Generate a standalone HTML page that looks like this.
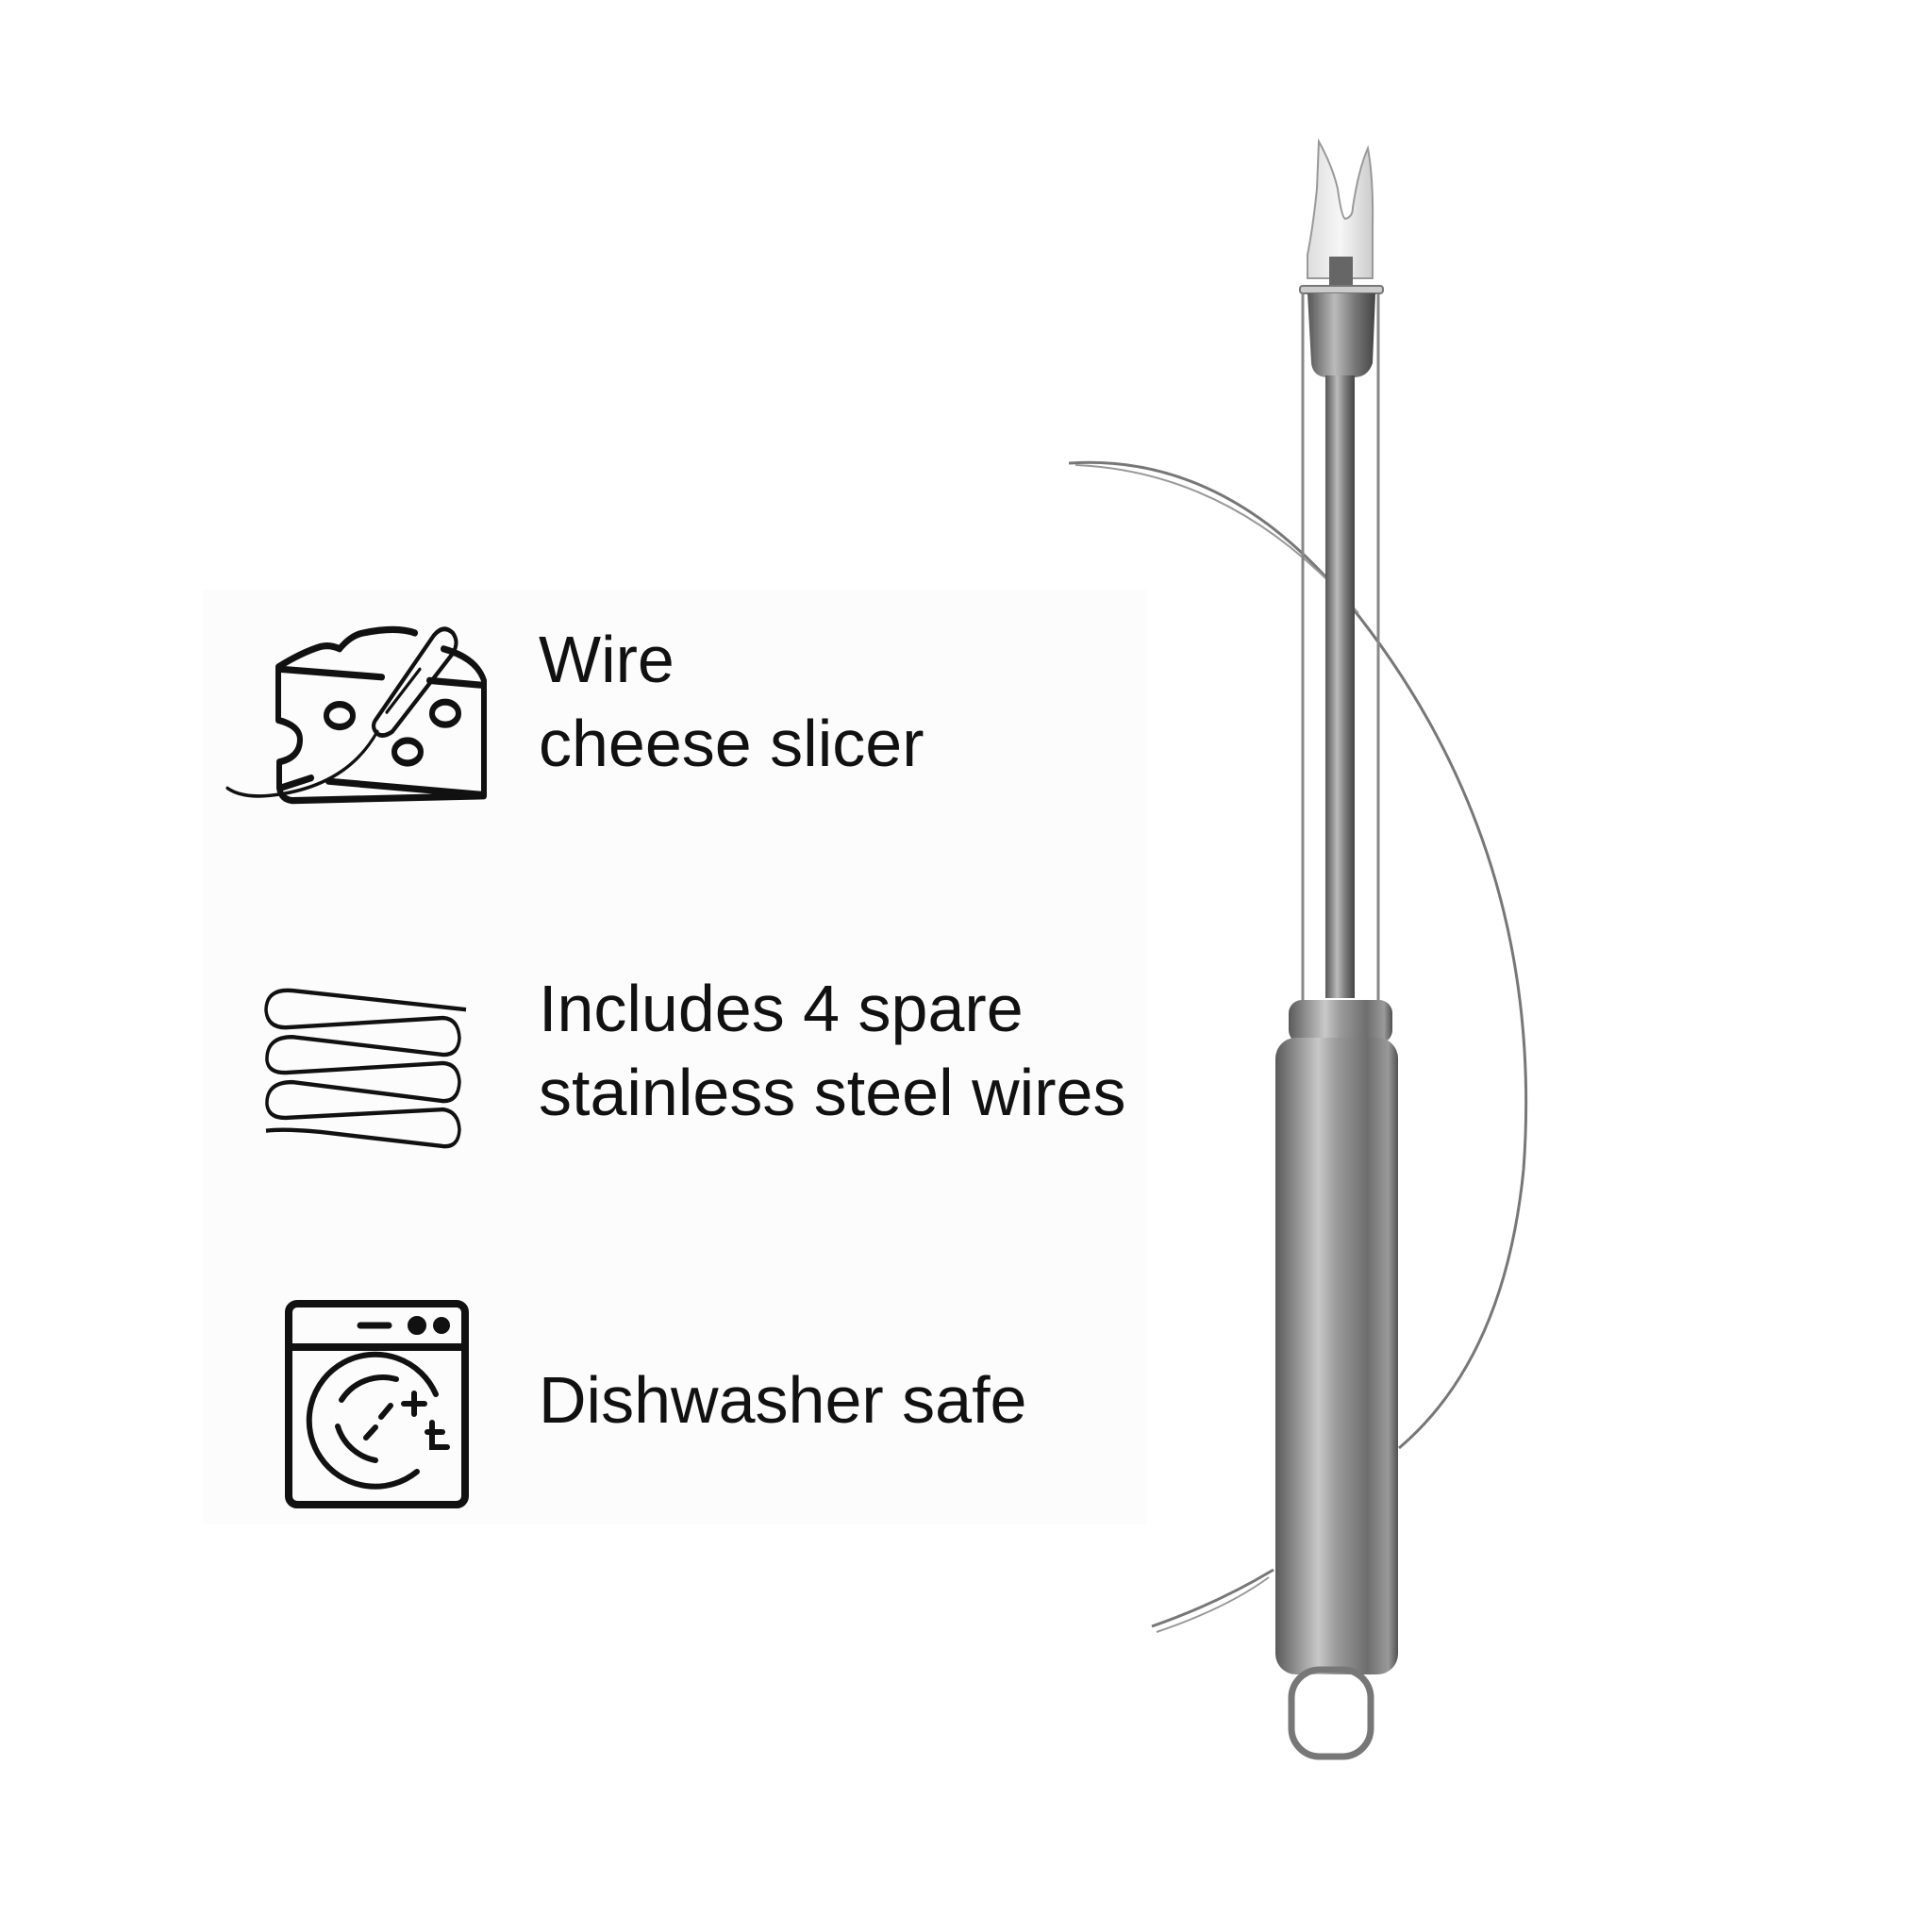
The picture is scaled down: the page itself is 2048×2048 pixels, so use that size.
<!DOCTYPE html>
<html><head><meta charset="utf-8"><style>
html,body{margin:0;padding:0;background:#fff;}
body{width:2048px;height:2048px;position:relative;overflow:hidden;font-family:"Liberation Sans","DejaVu Sans",sans-serif;}
.t{position:absolute;left:571px;font-size:70px;color:#111;line-height:1;white-space:nowrap;}
svg{position:absolute;left:0;top:0;}
</style></head><body>
<svg width="2048" height="2048" viewBox="0 0 2048 2048">
<defs>
<linearGradient id="h" x1="0" x2="1" y1="0" y2="0">
<stop offset="0" stop-color="#5a5a5a"/><stop offset="0.15" stop-color="#8a8a8a"/><stop offset="0.35" stop-color="#c8c8c8"/><stop offset="0.5" stop-color="#9a9a9a"/><stop offset="0.75" stop-color="#6e6e6e"/><stop offset="0.92" stop-color="#9a9a9a"/><stop offset="1" stop-color="#505050"/>
</linearGradient>
<linearGradient id="r" x1="0" x2="1" y1="0" y2="0">
<stop offset="0" stop-color="#555"/><stop offset="0.4" stop-color="#bbb"/><stop offset="0.7" stop-color="#777"/><stop offset="1" stop-color="#444"/>
</linearGradient>
<linearGradient id="f" x1="0" x2="1" y1="0" y2="0">
<stop offset="0" stop-color="#ddd"/><stop offset="0.5" stop-color="#f6f6f6"/><stop offset="1" stop-color="#ccc"/>
</linearGradient>
</defs>
<rect x="215" y="625" width="1000" height="990" fill="#fcfcfc"/>
<g fill="none" stroke="#111" stroke-width="6" stroke-linejoin="round" stroke-linecap="round" transform="translate(0,653) scale(1,1.2) translate(0,-643)">
<path d="M295 688 L295 735 Q318 740 318 752 Q318 768 296 772 L296 795 Q298 805 310 806 L513 802 L513 700 Q505 680 470 672 M295 688 Q320 675 340 670 Q350 668 360 672 Q372 660 385 658 Q420 652 440 658"/>
<path d="M298 690 L405 697 M455 700 L510 704"/>
<path d="M297 795 L330 786 M348 789 L513 801"/>
<ellipse cx="360" cy="731" rx="14" ry="10"/><ellipse cx="472" cy="729" rx="14" ry="10"/><ellipse cx="432" cy="763" rx="14" ry="10"/>
<path d="M398 735 L460 660 Q470 650 480 658 Q487 666 480 676 L416 745 Q404 752 398 745 Q394 740 398 735 Z" stroke-width="4"/>
<path d="M410 728 L445 690" stroke-width="3"/>
<path d="M400 745 Q370 790 300 800 Q260 806 241 795" stroke-width="3"/>
</g>
<g fill="none" stroke="#111" stroke-width="3.5" transform="translate(0,1045) scale(1,1.26) translate(0,-960)">
<path d="M494 980 Q400 972 310 964 Q282 962 282 981 Q284 996 305 995 L470 987 Q486 988 487 1004 Q486 1018 470 1018 L310 1003 Q282 1003 283 1023 Q285 1034 305 1033 L470 1025 Q486 1026 487 1041 Q486 1057 470 1057 L310 1041 Q282 1041 283 1060 Q285 1072 305 1071 L470 1064 Q486 1066 487 1081 Q486 1096 470 1095 L340 1083 Q300 1080 282 1082"/>
</g>
<g fill="none" stroke="#111" stroke-width="8" stroke-linecap="round">
<rect x="306" y="1382" width="187" height="213" rx="9"/>
<line x1="308" y1="1428" x2="491" y2="1428"/>
<line x1="382" y1="1405" x2="412" y2="1405" stroke-width="7"/>
<circle cx="442" cy="1405" r="6" fill="#111"/><circle cx="468" cy="1405" r="5" fill="#111"/>
<path d="M462 1478 A70 70 0 1 0 442 1560" stroke-width="6"/>
<path d="M420 1462 A52 52 0 0 0 362 1484 M358 1512 A52 52 0 0 0 398 1548" stroke-width="6"/>
<path d="M414 1490 L404 1502 M398 1513 L388 1524" stroke-width="6"/>
<path d="M428 1488 L450 1488 M439 1477 L439 1499 M458 1508 L458 1534 L474 1534 M453 1518 L469 1518" stroke-width="6"/>
</g>
<g>
<path d="M1133 491 Q1300 480 1430 640 Q1640 900 1615 1240 Q1595 1440 1483 1535" fill="none" stroke="#777" stroke-width="3"/>
<path d="M1140 493 Q1310 500 1440 650" fill="none" stroke="#999" stroke-width="2"/>
<path d="M1221 1724 Q1290 1700 1350 1664" fill="none" stroke="#777" stroke-width="3"/>
<path d="M1226 1730 Q1300 1705 1345 1672" fill="none" stroke="#999" stroke-width="2"/>
<line x1="1381" y1="310" x2="1381" y2="1075" stroke="#888" stroke-width="3"/>
<line x1="1461" y1="310" x2="1461" y2="1075" stroke="#888" stroke-width="3"/>
<path d="M1398 150 Q1412 175 1418 200 Q1422 230 1426 232 Q1434 230 1434 220 Q1440 180 1450 157 Q1456 190 1455 240 L1455 295 L1386 295 L1386 270 Q1392 240 1396 200 Z" fill="url(#f)" stroke="#999" stroke-width="2"/>
<rect x="1409" y="272" width="25" height="30" fill="#666"/>
<rect x="1378" y="303" width="88" height="8" rx="3" fill="#ccc" stroke="#777" stroke-width="2"/>
<path d="M1386 311 L1458 311 L1455 385 Q1450 400 1435 400 L1408 400 Q1392 400 1390 385 Z" fill="url(#r)"/>
<rect x="1405" y="398" width="31" height="660" fill="url(#r)"/>
<rect x="1366" y="1060" width="110" height="46" rx="14" fill="url(#h)"/>
<rect x="1352" y="1100" width="130" height="675" rx="22" fill="url(#h)"/>
<rect x="1369" y="1770" width="84" height="92" rx="30" fill="none" stroke="#777" stroke-width="7"/>
</g>
</svg>
<div class="t" style="top:664px">Wire</div>
<div class="t" style="top:753px">cheese slicer</div>
<div class="t" style="top:1034px">Includes 4 spare</div>
<div class="t" style="top:1123px">stainless steel wires</div>
<div class="t" style="top:1449px">Dishwasher safe</div>
</body></html>
